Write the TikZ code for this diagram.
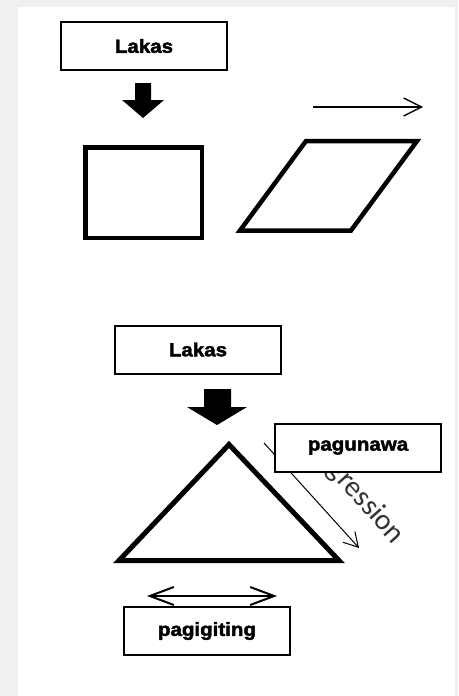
\documentclass[tikz,border=0pt]{standalone}
\usepackage{fontspec}
\newfontfamily\boxfont{Liberation Sans}[FakeStretch=1.08, BoldFeatures={FakeBold=2.2}]
\newfontfamily\progfont{Carlito}
\usetikzlibrary{arrows.meta}
\definecolor{bggray}{RGB}{240,240,240}
\begin{document}
\begin{tikzpicture}[x=1pt,y=-1pt,
  label box/.style={draw, line width=2pt, fill=white, minimum width=166pt, minimum height=48pt, inner sep=0pt,
    font=\boxfont\bfseries\fontsize{19}{21}\selectfont},
  thick shape/.style={draw, line width=4.5pt, line join=miter},
  thin arrow/.style={line width=1.3pt, -{Straight Barb[length=18pt,width=18pt]}},
  block arrow/.style={fill=black}]
\fill[bggray] (0,0) rectangle (458,696);
\fill[white] (18,7) rectangle (455,696);
\useasboundingbox (0,0) rectangle (458,696);

% top part
\node[label box] (lakasA) at (144,46) {Lakas};
\fill[block arrow] (135,83) -- (151,83) -- (151,100) -- (164,100) -- (143,118) -- (122,100) -- (135,100) -- cycle;
\node[thick shape, minimum width=116.5pt, minimum height=90.5pt, inner sep=0pt] (square) at (143.5,192.5) {};
\draw[thick shape] (240,230.5) -- (351,230.5) -- (417,141) -- (306,141) -- cycle;
\coordinate (ta) at (313,107);
\coordinate (tb) at (423,107);
\draw[thin arrow] (ta) -- (tb);

% bottom part
\node[label box] (lakasB) at (198,349.5) {Lakas};
\fill[block arrow] (204,389) -- (231,389) -- (231,407) -- (247,407) -- (217,425) -- (187,407) -- (204,407) -- cycle;
\draw[line width=5pt, line join=miter] (119,560.5) -- (229,444.5) -- (339,560.5) -- cycle;
\node[font=\progfont\fontsize{29.5}{30}\selectfont, text=black!80, rotate=-48, anchor=base west, inner sep=0pt] (prog) at (299.5,440.5) {Progression};
\coordinate (pa) at (264,443);
\coordinate (pb) at (359,548);
\draw[line width=1pt, -{Straight Barb[length=14pt,width=16pt]}] (pa) -- (pb);
\node[label box] (pagunawa) at (358,447.5) {pagunawa};
\coordinate (da) at (147,596);
\coordinate (db) at (277,596);
\draw[line width=2pt, {Straight Barb[length=24pt,width=18pt]}-{Straight Barb[length=24pt,width=18pt]}] (da) -- (db);
\node[label box] (pagigiting) at (207,631) {pagigiting};
\end{tikzpicture}
\end{document}
